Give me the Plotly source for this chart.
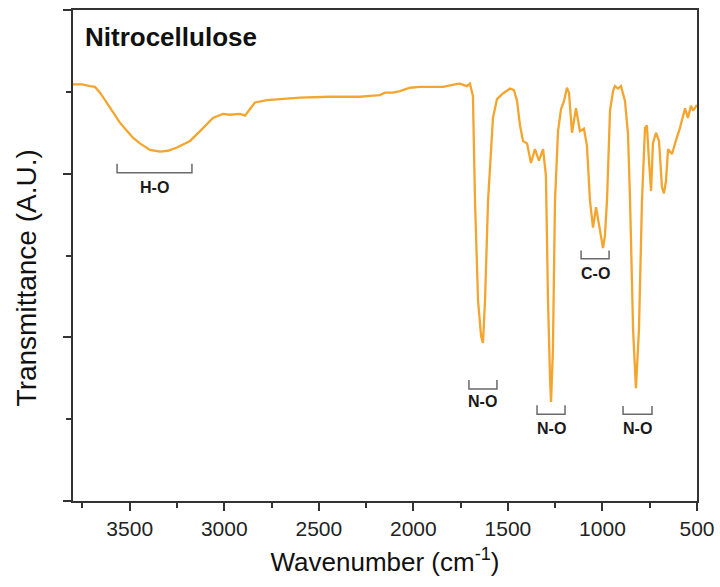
import plotly.graph_objects as go

# FTIR spectrum of nitrocellulose
wavenumber = [3800, 3752, 3710, 3684, 3657, 3631, 3604, 3578, 3551, 3514, 3483, 3446,
              3393, 3340, 3298, 3250, 3181, 3128, 3091, 3060, 3007, 2970, 2917, 2890,
              2864, 2838, 2774, 2705, 2600, 2441, 2282, 2229, 2177, 2150, 2108, 2071,
              2018, 1965, 1843, 1780, 1754, 1717, 1701, 1685, 1674, 1658, 1642, 1632,
              1621, 1605, 1589, 1579, 1558, 1526, 1489, 1468, 1452, 1436, 1420, 1399,
              1378, 1357, 1336, 1314, 1299, 1288, 1277, 1272, 1262, 1251, 1235, 1219,
              1203, 1188, 1177, 1161, 1140, 1119, 1098, 1082, 1066, 1050, 1034, 1018,
              1008, 997, 987, 976, 960, 944, 934, 918, 902, 881, 865, 854, 838, 823,
              807, 791, 775, 765, 754, 743, 733, 717, 701, 685, 675, 664, 653, 632,
              616, 590, 563, 548, 532, 521, 500]
transmittance = [5.09, 5.09, 5.07, 5.06, 4.99, 4.90, 4.80, 4.71, 4.62, 4.52, 4.44, 4.37,
                 4.29, 4.27, 4.28, 4.32, 4.40, 4.52, 4.61, 4.68, 4.73, 4.72, 4.73, 4.71,
                 4.79, 4.87, 4.90, 4.91, 4.93, 4.94, 4.94, 4.95, 4.96, 4.99, 4.99, 5.01,
                 5.05, 5.06, 5.06, 5.09, 5.10, 5.07, 5.10, 4.95, 3.67, 2.45, 2.02, 1.93,
                 2.45, 3.67, 4.40, 4.68, 4.91, 4.98, 5.04, 5.02, 4.89, 4.59, 4.40, 4.37,
                 4.13, 4.30, 4.16, 4.30, 3.98, 2.45, 1.48, 1.21, 1.84, 3.67, 4.52, 4.79,
                 4.89, 5.05, 4.99, 4.50, 4.80, 4.52, 4.55, 4.34, 3.67, 3.34, 3.59, 3.37,
                 3.24, 3.09, 3.24, 3.67, 4.77, 5.01, 5.07, 5.04, 5.07, 4.89, 4.49, 3.67,
                 2.09, 1.38, 2.09, 3.67, 4.56, 4.59, 4.16, 3.79, 4.37, 4.50, 4.40, 3.83,
                 3.76, 3.91, 4.30, 4.24, 4.37, 4.56, 4.80, 4.68, 4.83, 4.77, 4.84]

# band assignments: label, left/right wavenumber of bracket, bracket top/bottom, label y
band_labels = ["H-O", "N-O", "N-O", "C-O", "N-O"]
band_left = [3567, 1706, 1346, 1113, 891]
band_right = [3171, 1558, 1198, 965, 738]
band_top = [4.12, 1.48, 1.17, 3.06, 1.16]
band_bottom = [4.01, 1.37, 1.06, 2.96, 1.06]
band_text_y = [3.83, 1.21, 0.89, 2.78, 0.89]

x_tickvals = [3500, 3000, 2500, 2000, 1500, 1000, 500]
x_ticktext = ["3500", "3000", "2500", "2000", "1500", "1000", "500"]

FONT = "Liberation Sans, Arial, sans-serif"

fig = go.Figure()
fig.add_trace(go.Scatter(x=wavenumber, y=transmittance, mode="lines",
                         line=dict(color="#F4A52E", width=2.3), showlegend=False,
                         hoverinfo="skip"))

for lab, xl, xr, yt, yb, yl in zip(band_labels, band_left, band_right, band_top,
                                   band_bottom, band_text_y):
    fig.add_trace(go.Scatter(x=[xl, xl, xr, xr], y=[yt, yb, yb, yt], mode="lines",
                             line=dict(color="#6a6a6a", width=1.5), showlegend=False,
                             hoverinfo="skip"))
    fig.add_annotation(x=(xl + xr) / 2, y=yl, text="<b>%s</b>" % lab, showarrow=False,
                       font=dict(family=FONT, size=16, color="#1a1a1a"),
                       xanchor="center", yanchor="middle")

fig.add_annotation(xref="paper", yref="paper", x=0.016, y=0.945,
                   text="<b>Nitrocellulose</b>", showarrow=False,
                   font=dict(family=FONT, size=26, color="#111111"),
                   xanchor="left", yanchor="middle")

# y-axis title placed as rotated text (sits slightly below the axis centre in the reference)
fig.add_annotation(xref="paper", yref="paper", x=-0.074, y=0.455,
                   text="Transmittance (A.U.)", textangle=-90, showarrow=False,
                   font=dict(family=FONT, size=28, color="#111111"),
                   xanchor="center", yanchor="middle")

fig.update_layout(
    width=720, height=587,
    margin=dict(l=73, r=23, t=10, b=86, autoexpand=False),
    paper_bgcolor="white", plot_bgcolor="white",
    font=dict(family=FONT, color="#222222"),
)
fig.update_xaxes(
    range=[3800, 500], tickvals=x_tickvals, ticktext=x_ticktext, automargin=False,
    ticks="outside", ticklen=8, tickwidth=1.5, tickcolor="#333333",
    tickfont=dict(size=21, color="#222222"),
    minor=dict(dtick=250, tick0=500, ticks="outside", ticklen=5, tickwidth=1.5,
               tickcolor="#333333", showgrid=False),
    showline=True, linecolor="#333333", linewidth=2, mirror=True,
    showgrid=False, zeroline=False,
    title=dict(text="Wavenumber (cm<sup>-1</sup>)", font=dict(size=26, color="#111111"),
               standoff=14),
)
fig.update_yaxes(
    range=[0, 6], dtick=2, tick0=0, showticklabels=False, automargin=False,
    ticks="outside", ticklen=8, tickwidth=1.5, tickcolor="#333333",
    minor=dict(dtick=1, tick0=0, ticks="outside", ticklen=5, tickwidth=1.5,
               tickcolor="#333333", showgrid=False),
    showline=True, linecolor="#333333", linewidth=2, mirror=True,
    showgrid=False, zeroline=False,
)

fig.write_html("out.html")
